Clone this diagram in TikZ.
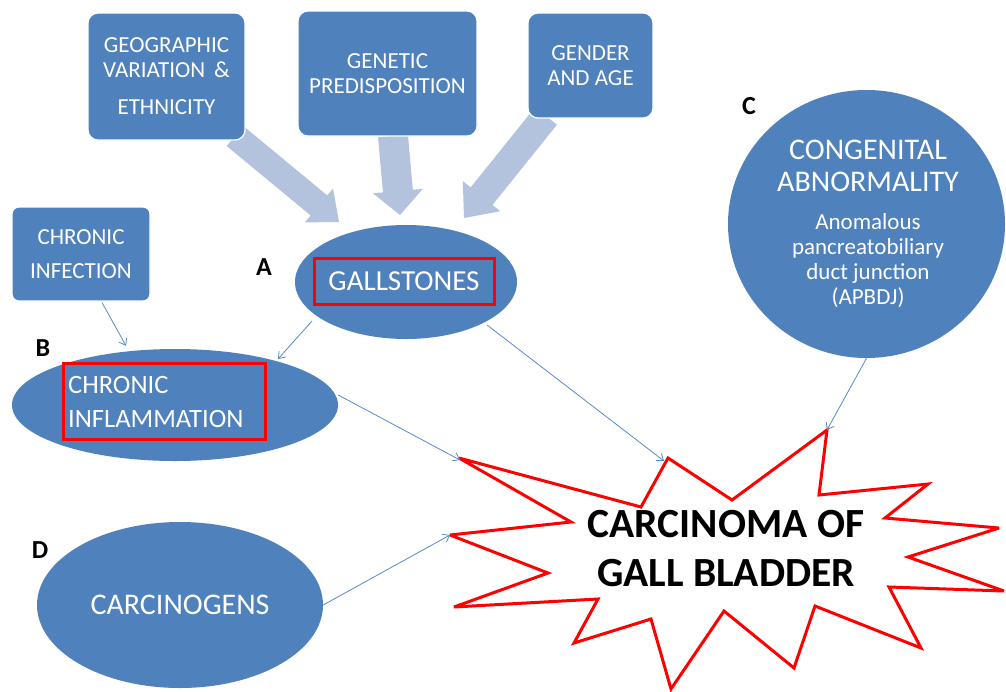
\documentclass[tikz,border=0pt]{standalone}
\usepackage{fontspec}
\setmainfont{Carlito}
\usetikzlibrary{shapes.geometric,arrows.meta,calc}
\definecolor{nblue}{HTML}{4F81BD}
\definecolor{lblue}{HTML}{B3C3DE}
\definecolor{lineblue}{HTML}{5B8BC7}
\newcommand{\blockarr}[5]{%
  \coordinate (ba-b) at ($(#2)!#5!(#1)$);
  \fill[barrow] ($(#1)!#3!90:(#2)$) -- ($(ba-b)!#3!90:(#2)$) -- ($(ba-b)!#4!90:(#2)$) -- (#2)
    -- ($(ba-b)!#4!-90:(#2)$) -- ($(ba-b)!#3!-90:(#2)$) -- ($(#1)!#3!-90:(#2)$) -- cycle;}
\begin{document}
\begin{tikzpicture}[x=1pt,y=-1pt,
  box/.style={draw=white, line width=1.2pt, fill=nblue, rounded corners=10pt, text=white, align=center, inner sep=0pt},
  oval/.style={ellipse, fill=nblue, inner sep=0pt, text=white},
  redbox/.style={draw=red, line width=3pt, inner sep=0pt, text=white},
  conn/.style={draw=lineblue, line width=0.8pt, -{Straight Barb[length=6pt,width=9pt]}},
  lbl/.style={font=\fontsize{26}{28}\selectfont\bfseries, text=black, inner sep=0pt},
  barrow/.style={fill=lblue},
  f23/.style={font=\fontsize{23}{25}\selectfont}]
\fill[white] (0,0) rectangle (1006,691);
\useasboundingbox (0,0) rectangle (1006,691);

% star
\coordinate (s1) at (459,458);
\coordinate (s2) at (571,522);
\coordinate (s3) at (450,535);
\coordinate (s4) at (548,573);
\coordinate (s5) at (454,607);
\coordinate (s6) at (598,599);
\coordinate (s7) at (574,643);
\coordinate (s8) at (651,619);
\coordinate (s9) at (671,689);
\coordinate (s10) at (724,611);
\coordinate (s11) at (794,668);
\coordinate (s12) at (815,606);
\coordinate (s13) at (921,648);
\coordinate (s14) at (889,587);
\coordinate (s15) at (1004,591);
\coordinate (s16) at (908,557);
\coordinate (s17) at (999,528);
\coordinate (s18) at (885,518);
\coordinate (s19) at (928,484);
\coordinate (s20) at (819,495);
\coordinate (s21) at (827,430);
\coordinate (s22) at (732,500);
\coordinate (s23) at (668,458);
\coordinate (s24) at (641,507);
\draw[red, line width=3pt, fill=white, miter limit=4]
  (s1) -- (s2) -- (s3) -- (s4) -- (s5) -- (s6) -- (s7) -- (s8) -- (s9) -- (s10) -- (s11) -- (s12)
  -- (s13) -- (s14) -- (s15) -- (s16) -- (s17) -- (s18) -- (s19) -- (s20) -- (s21) -- (s22) -- (s23) -- (s24) -- cycle;
\node[font=\fontsize{41.5}{49}\selectfont\bfseries, align=center, inner sep=0pt] (ca) at (726,549) {CARCINOMA OF\\GALL BLADDER};

% ellipses
\node[oval, minimum width=222pt, minimum height=114pt] (gs) at (406,282) {};
\node[redbox, minimum width=180pt, minimum height=46pt, font=\fontsize{29}{31}\selectfont] (gst) at (404,281) {GALLSTONES};

\node[oval, minimum width=326pt, minimum height=112pt] (infl) at (175,405) {};
\node[redbox, minimum width=202pt, minimum height=76pt] (inflr) at (164,401) {};
\node[text=white, font=\fontsize{26.5}{34}\selectfont, align=left, anchor=west, inner sep=0pt] (inflt) at (68,402) {CHRONIC\\INFLAMMATION};

\node[oval, minimum width=286pt, minimum height=166pt, font=\fontsize{30}{32}\selectfont] (carc) at (180,605) {CARCINOGENS};

\node[oval, minimum width=277pt, minimum height=268pt] (cong) at (866.5,224) {};
\node[text=white, font=\fontsize{30}{32}\selectfont, align=center, inner sep=0pt] (congt) at (868,166) {CONGENITAL\\ABNORMALITY};
\node[text=white, f23, align=center, inner sep=0pt] (congs) at (868,261) {Anomalous\\pancreatobiliary\\duct junction\\(APBDJ)};

% boxes positions (for arrows)
\coordinate (geoc) at (166.5,76.5);
\coordinate (genc) at (387.5,73.5);
\coordinate (gndc) at (590.5,65.5);

% block arrows
\coordinate (a1s) at (235,136);
\coordinate (a1t) at (339,222);
\blockarr{a1s}{a1t}{13pt}{22pt}{26pt}
\coordinate (a2s) at (393,136);
\coordinate (a2t) at (400,215);
\blockarr{a2s}{a2t}{15pt}{25pt}{24pt}
\coordinate (a3s) at (546,116);
\coordinate (a3t) at (464,218);
\blockarr{a3s}{a3t}{14pt}{24pt}{28pt}

% boxes
\node[box, f23, minimum width=157pt, minimum height=127pt] (geo) at (geoc) {GEOGRAPHIC\\VARIATION \,\&\\[12pt]ETHNICITY};
\node[box, f23, minimum width=179pt, minimum height=125pt] (gen) at (genc) {GENETIC\\PREDISPOSITION};
\node[box, f23, minimum width=125pt, minimum height=105pt] (gnd) at (gndc) {GENDER\\AND AGE};
\node[box, font=\fontsize{23}{34}\selectfont, minimum width=138pt, minimum height=94pt, rounded corners=7pt] (inf) at (81,254) {CHRONIC\\INFECTION};

% labels
\node[lbl] (la) at (264,267) {A};
\node[lbl] (lb) at (43,348) {B};
\node[lbl] (lc) at (749,106) {C};
\node[lbl] (ld) at (40,550) {D};

% connectors
\draw[conn] ($(inf.south)+(21,1)$) -- ($(infl.north)+(-49,-3)$);
\draw[conn] ($(gs.center)+(-94,39)$) -- ($(infl.center)+(103,-46)$);
\draw[conn] ($(gs.center)+(81,43)$) -- ($(s23)+(-4,3)$);
\draw[conn] ($(infl.east)+(0,-10)$) -- ($(s1)+(1,2)$);
\draw[conn] (carc.east) -- (s3);
\draw[conn] (cong.south) -- (s21);
\end{tikzpicture}
\end{document}
